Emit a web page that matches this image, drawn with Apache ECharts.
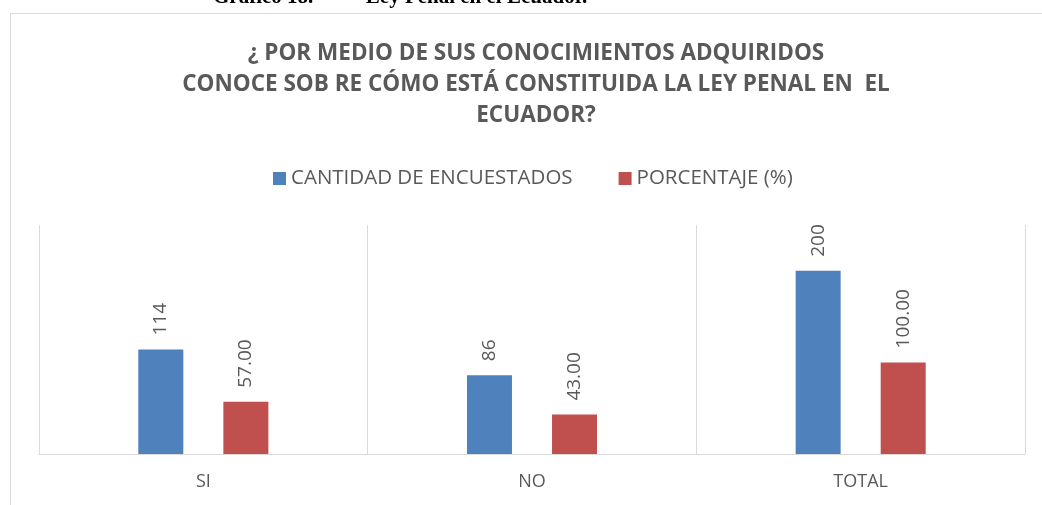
<!DOCTYPE html>
<html>
<head>
<meta charset="utf-8">
<script src="https://cdn.jsdelivr.net/npm/echarts@6/dist/echarts.min.js"></script>
<style>
  html, body { margin: 0; padding: 0; background: #fff; }
  #chart { width: 1042px; height: 505px; }
</style>
</head>
<body>
<div id="chart"></div>
<script>
const categories = ['SI', 'NO', 'TOTAL']
const cantidad = [114, 86, 200]
const porcentaje = [57.00, 43.00, 100.00]
const seriesNames = ['CANTIDAD DE ENCUESTADOS', 'PORCENTAJE (%)']
const titleText = '¿ POR MEDIO DE SUS CONOCIMIENTOS ADQUIRIDOS\nCONOCE SOB RE CÓMO ESTÁ CONSTITUIDA LA LEY PENAL EN  EL\nECUADOR?'
const captionText = 'Gráfico 18.          Ley Penal en el Ecuador.'

const chart = echarts.init(document.getElementById('chart'))
const grey = '#595959'
const font = '"Open Sans", sans-serif'

const barLabel = (digits) => ({
  show: true,
  position: 'top',
  distance: 14,
  rotate: 90,
  align: 'left',
  verticalAlign: 'middle',
  color: grey,
  fontFamily: font,
  fontSize: 19,
  formatter: p => p.value.toFixed(digits)
})

chart.setOption({
  animation: false,
  graphic: [
    {
      type: 'rect',
      shape: { x: 10.5, y: 13.5, width: 1100, height: 600 },
      style: { fill: 'none', stroke: '#d9d9d9', lineWidth: 1 },
      silent: true
    },
    {
      type: 'text',
      left: 213,
      top: -13,
      style: {
        text: captionText,
        font: 'bold 21px "Liberation Serif", serif',
        fill: '#000'
      },
      silent: true
    }
  ],
  title: {
    text: titleText,
    left: 531,
    textAlign: 'center',
    top: 33,
    textStyle: {
      color: grey,
      fontFamily: font,
      fontWeight: 'bold',
      fontSize: 22.5,
      lineHeight: 31
    }
  },
  legend: {
    data: seriesNames,
    top: 163,
    left: 268,
    itemWidth: 13,
    itemHeight: 13,
    itemGap: 46,
    icon: 'rect',
    textStyle: { color: grey, fontFamily: font, fontSize: 20.5 }
  },
  grid: { left: 39, right: 17, top: 225, bottom: 51 },
  xAxis: {
    type: 'category',
    data: categories,
    axisLine: { lineStyle: { color: '#d9d9d9' } },
    axisTick: { show: false },
    splitLine: { show: true, lineStyle: { color: '#d9d9d9' } },
    axisLabel: { color: grey, fontFamily: font, fontSize: 18, margin: 19 }
  },
  yAxis: {
    type: 'value',
    min: 0,
    max: 250,
    show: false
  },
  series: [
    {
      name: seriesNames[0],
      type: 'bar',
      data: cantidad,
      barWidth: 45,
      barGap: '89%',
      itemStyle: { color: '#4f81bd' },
      label: barLabel(0)
    },
    {
      name: seriesNames[1],
      type: 'bar',
      data: porcentaje,
      barWidth: 45,
      itemStyle: { color: '#c0504d' },
      label: barLabel(2)
    }
  ]
})
</script>
</body>
</html>
